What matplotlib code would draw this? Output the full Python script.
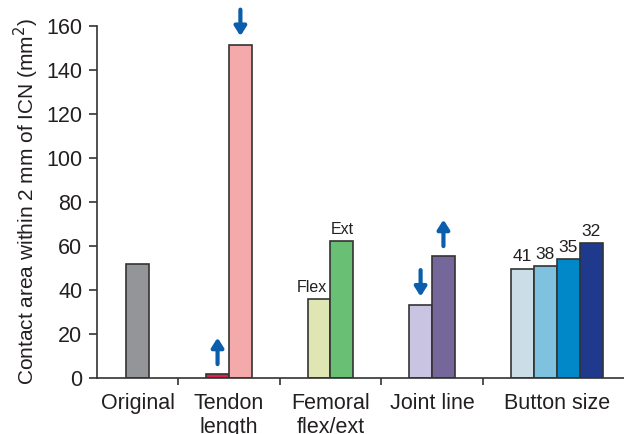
import matplotlib.pyplot as plt
import numpy as np

plt.rcParams["font.family"] = ["Liberation Sans", "DejaVu Sans"]

GROUPS = ["Original", "Tendon\nlength", "Femoral\nflex/ext", "Joint line", "Button size"]
VALUES = [
    [51.7],
    [1.8, 151.3],
    [35.8, 62.2],
    [33.0, 55.4],
    [49.7, 50.8, 54.0, 61.3],
]
COLORS = [
    ["#939598"],
    ["#d8234f", "#f4a9ab"],
    ["#dfe6b4", "#69bf73"],
    ["#c8c4e1", "#756799"],
    ["#cbdde6", "#7fc2e0", "#0088c8", "#1f3a8d"],
]
BAR_LABELS = [
    [None],
    [None, None],
    ["Flex", "Ext"],
    [None, None],
    ["41", "38", "35", "32"],
]
ARROWS = [
    [None],
    ["up", "down"],
    [None, None],
    ["down", "up"],
    [None, None, None, None],
]

# layout: group separators at 1..4, groups centred between them
SEPARATORS = [1, 2, 3, 4]
X_MIN, X_MAX = 0.2, 5.46
BAR_W = 0.225
TEXT_COLOR = "#231f20"
EDGE_COLOR = "#333333"
ARROW_COLOR = "#0b5eac"


def group_centers():
    bounds = [X_MIN] + SEPARATORS + [X_MAX]
    return [(bounds[i] + bounds[i + 1]) / 2 for i in range(len(bounds) - 1)]


def draw_arrow(ax, x, top, direction):
    length = 12.0
    if direction == "up":
        tail, tip = top + 4.5, top + 4.5 + length
    else:
        tail, tip = top + 4.0 + length, top + 4.0
    ax.annotate(
        "", xy=(x, tip), xytext=(x, tail),
        arrowprops=dict(arrowstyle="-|>,head_width=0.35,head_length=0.55",
                        lw=3.0, color=ARROW_COLOR, shrinkA=0, shrinkB=0),
        annotation_clip=False,
    )


def main():
    fig = plt.figure(figsize=(6.24, 4.34), dpi=100)
    ax = fig.add_axes([97 / 624, 56 / 434, (631 - 97) / 624, (378 - 25.7) / 434])

    centers = group_centers()
    for gi, vals in enumerate(VALUES):
        n = len(vals)
        xs = centers[gi] + (np.arange(n) - (n - 1) / 2) * BAR_W
        ax.bar(xs, vals, width=BAR_W, color=COLORS[gi], edgecolor=EDGE_COLOR,
               linewidth=1.2, zorder=2)
        for x, v, lab, arr in zip(xs, vals, BAR_LABELS[gi], ARROWS[gi]):
            if lab is not None:
                dx = -5 if lab == "Flex" else 0
                fs = 11.5 if lab in ("Flex", "Ext") else 12.5
                ax.annotate(lab, xy=(x, v), xytext=(dx, 3), textcoords="offset points",
                            ha="center", va="bottom", fontsize=fs, color=TEXT_COLOR)
            if arr is not None:
                draw_arrow(ax, x, v, arr)

    ax.set_xlim(X_MIN, X_MAX)
    ax.set_ylim(0, 160)
    ax.set_yticks(np.arange(0, 161, 20))
    ax.set_xticks(SEPARATORS)
    ax.set_xticklabels([])
    ax.set_xticks(centers, minor=True)
    ax.set_xticklabels(GROUPS, minor=True, fontsize=15.5, color=TEXT_COLOR,
                       linespacing=1.2, va="top")
    ax.tick_params(axis="x", which="minor", length=0, pad=11)
    ax.tick_params(axis="x", which="major", length=5, width=1.2, color=EDGE_COLOR)
    ax.tick_params(axis="y", length=5.5, width=1.2, color=EDGE_COLOR,
                   labelsize=15.5, labelcolor=TEXT_COLOR, pad=5)

    for side in ("top", "right"):
        ax.spines[side].set_visible(False)
    for side in ("left", "bottom"):
        ax.spines[side].set_color(EDGE_COLOR)
        ax.spines[side].set_linewidth(1.2)

    ax.set_ylabel("Contact area within 2 mm of ICN (mm$^2$)", fontsize=15,
                  color=TEXT_COLOR, labelpad=4)

    fig.savefig("out.png", dpi=100)


if __name__ == "__main__":
    main()
